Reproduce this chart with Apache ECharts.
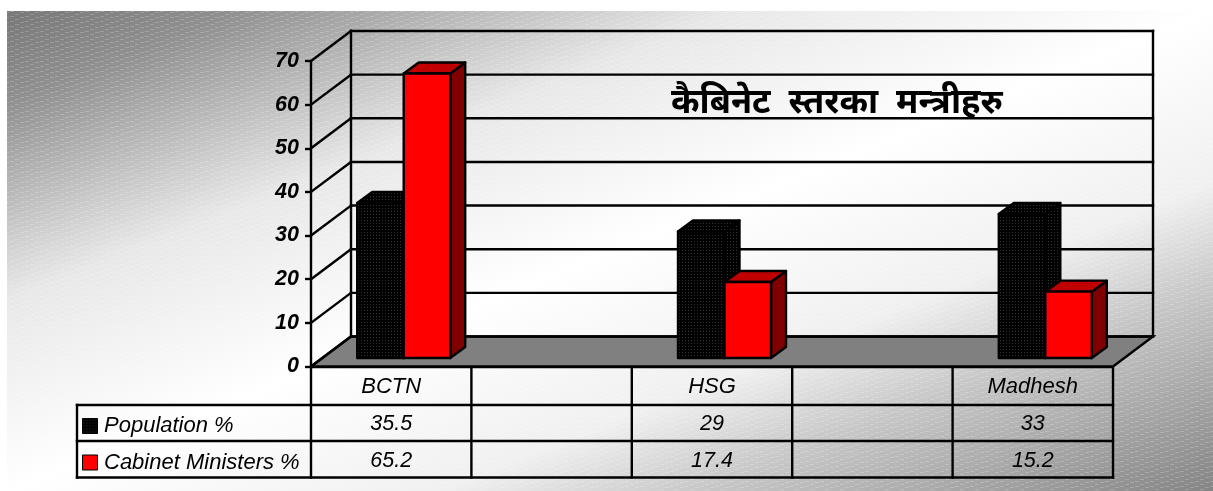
<!DOCTYPE html>
<html>
<head>
<meta charset="utf-8">
<style>html,body{margin:0;padding:0;background:#fff}#c{width:1213px;height:491px}</style>
<script src="https://cdn.jsdelivr.net/npm/echarts@6/dist/echarts.min.js"></script>
</head>
<body>
<div id="c"></div>
<script>
const chartTitle = 'कैबिनेट  स्तरका  मन्त्रीहरु';
const categories = ['BCTN', '', 'HSG', '', 'Madhesh'];
const populationName = 'Population %';
const ministersName = 'Cabinet Ministers %';
const population = [35.5, null, 29, null, 33];
const ministers = [65.2, null, 17.4, null, 15.2];
const yTicks = [0, 10, 20, 30, 40, 50, 60, 70];

function tile(w, h, bg, fg, marks) {
  const c = document.createElement('canvas');
  c.width = w; c.height = h;
  const g = c.getContext('2d');
  if (bg) { g.fillStyle = bg; g.fillRect(0, 0, w, h); }
  g.fillStyle = fg;
  marks.forEach(m => g.fillRect(m[0], m[1], m[2], m[3]));
  return { image: c, repeat: 'repeat' };
}
const hatch = tile(15, 5, null, 'rgba(255,255,255,0.2)',
  [[0, 4, 4, 1], [5, 2, 4, 1], [10, 1, 4, 1]]);
const blackFill = tile(3, 3, '#000', '#333333', [[1, 1, 1, 1]]);

const W = 7, DEPTH_X = 40, DEPTH_Y = -30;      // wall depth
const PLANE_X = 12.5, PLANE_Y = -8.5;          // bar plane inside the floor
const BAR_W = 46.5, SIDE_X = 15, SIDE_Y = -11;
const LW = 2.4;
const FONT = '"Liberation Sans", Arial, sans-serif';

function line(x1, y1, x2, y2) {
  return { type: 'line', shape: { x1, y1, x2, y2 }, style: { stroke: '#000', lineWidth: LW, lineCap: 'square' } };
}

function renderWalls(params, api) {
  const cs = params.coordSys;
  const l = cs.x, r = cs.x + cs.width;
  const y0 = api.coord([0, 0])[1];
  const children = [{
    type: 'polygon',
    shape: { points: [[l, y0], [l + DEPTH_X, y0 + DEPTH_Y], [r + DEPTH_X, y0 + DEPTH_Y], [r, y0]] },
    style: { fill: '#808080', stroke: '#000', lineWidth: LW }
  }];
  yTicks.forEach(v => {
    const y = api.coord([0, v])[1];
    children.push(line(l, y, l + DEPTH_X, y + DEPTH_Y));
    children.push(line(l + DEPTH_X, y + DEPTH_Y, r + DEPTH_X, y + DEPTH_Y));
  });
  const top = api.coord([0, 70])[1];
  children.push(line(l + DEPTH_X, top + DEPTH_Y, l + DEPTH_X, y0 + DEPTH_Y));
  children.push(line(r + DEPTH_X, top + DEPTH_Y, r + DEPTH_X, y0 + DEPTH_Y));
  return { type: 'group', children };
}

function makeBar(side, front, topFace, sideFace) {
  return function (params, api) {
    const val = api.value(1);
    if (isNaN(val)) return null;
    const cat = api.value(0);
    const cx = api.coord([cat, 0])[0] + PLANE_X;
    const y0 = api.coord([cat, 0])[1] + PLANE_Y;
    const y1 = api.coord([cat, val])[1] + PLANE_Y;
    const x0 = side < 0 ? cx - BAR_W : cx, x1 = x0 + BAR_W;
    const st = f => ({ fill: f, stroke: '#000', lineWidth: LW, lineJoin: 'round' });
    return {
      type: 'group',
      children: [
        { type: 'polygon', shape: { points: [[x1, y1], [x1 + SIDE_X, y1 + SIDE_Y], [x1 + SIDE_X, y0 + SIDE_Y], [x1, y0]] }, style: st(sideFace) },
        { type: 'polygon', shape: { points: [[x0, y1], [x0 + SIDE_X, y1 + SIDE_Y], [x1 + SIDE_X, y1 + SIDE_Y], [x1, y1]] }, style: st(topFace) },
        { type: 'rect', shape: { x: x0, y: y1, width: BAR_W, height: y0 - y1 }, style: st(front) }
      ]
    };
  };
}

function renderTable(params, api) {
  const cs = params.coordSys;
  const l = cs.x, r = cs.x + cs.width;
  const yTop = cs.y + cs.height + 1;
  const rows = [yTop + 37.5, yTop + 73.5, yTop + 110];
  const legendX = 77;
  const children = [];
  categories.forEach((c, i) => {
    const x = l + (r - l) * i / categories.length;
    children.push(line(x, yTop, x, rows[2]));
    const cx = api.coord([i, 0])[0];
    const txt = (t, y) => ({
      type: 'text',
      style: { text: t == null ? '' : String(t), x: cx, y, textAlign: 'center', textVerticalAlign: 'middle', font: 'italic 21.5px ' + FONT, fill: '#000' }
    });
    children.push(txt(population[i], (rows[0] + rows[1]) / 2 + 1));
    children.push(txt(ministers[i], (rows[1] + rows[2]) / 2 + 1.5));
  });
  children.push(line(r, yTop, r, rows[2]));
  children.push(line(legendX, rows[0], legendX, rows[2]));
  rows.forEach(y => children.push(line(legendX, y, r, y)));
  return { type: 'group', children };
}

const chart = echarts.init(document.getElementById('c'), null, { renderer: 'canvas' });
chart.setOption({
  animation: false,
  title: {
    text: chartTitle, left: 666, top: 81,
    textStyle: { fontFamily: '"Noto Sans", "DejaVu Sans", sans-serif', fontWeight: 'bold', fontSize: 34.4, color: '#000' }
  },
  graphic: {
    elements: [
      { type: 'rect', z: -20, shape: { x: W, y: 11, width: 1213 - W, height: 480 },
        style: { fill: new echarts.graphic.LinearGradient(445, -163, 775, 665, [
          { offset: 0, color: '#787878' }, { offset: 0.095, color: '#909090' }, { offset: 0.3, color: '#e8e8e8' },
          { offset: 0.5, color: '#ffffff' }, { offset: 0.68, color: '#f0f0f0' }, { offset: 0.785, color: '#c8c8c8' }, { offset: 1, color: '#858585' }
        ], true) } },
      { type: 'rect', z: -19, shape: { x: W, y: 11, width: 1213 - W, height: 480 }, style: { fill: hatch } }
    ]
  },
  legend: {
    data: [populationName, ministersName],
    orient: 'vertical', left: 77, top: 410, itemWidth: 15, itemHeight: 15, itemGap: 14.5, icon: 'rect',
    itemStyle: { borderColor: '#000', borderWidth: 1 },
    textStyle: { fontFamily: FONT, fontStyle: 'italic', fontSize: 22, color: '#000', padding: [0, 0, 0, 1.5] }
  },
  grid: { left: 311, top: 61, width: 802, height: 305.5 },
  xAxis: {
    type: 'category', data: categories,
    axisLine: { lineStyle: { color: '#000', width: LW } },
    axisTick: { show: false },
    axisLabel: { interval: 0, margin: 9, fontFamily: FONT, fontStyle: 'italic', fontSize: 22, color: '#000' },
    splitLine: { show: false }
  },
  yAxis: {
    type: 'value', min: 0, max: 70, interval: 10,
    axisLine: { show: true, lineStyle: { color: '#000', width: LW } },
    axisTick: { show: true, length: 6, lineStyle: { color: '#000', width: LW } },
    axisLabel: { margin: 12, fontFamily: FONT, fontStyle: 'italic', fontWeight: 'bold', fontSize: 21.5, color: '#000' },
    splitLine: { show: false }
  },
  series: [
    { type: 'custom', name: 'walls', data: [[0, 0]], renderItem: renderWalls, clip: false, silent: true },
    { type: 'custom', name: populationName, data: categories.map((c, i) => [i, population[i]]),
      itemStyle: { color: blackFill }, renderItem: makeBar(-1, blackFill, blackFill, blackFill), clip: false, encode: { x: 0, y: 1 } },
    { type: 'custom', name: ministersName, data: categories.map((c, i) => [i, ministers[i]]),
      itemStyle: { color: '#ff0000' }, renderItem: makeBar(1, '#ff0000', '#c00000', '#800000'), clip: false, encode: { x: 0, y: 1 } },
    { type: 'custom', name: 'table', data: [[0, 0]], renderItem: renderTable, clip: false, silent: true }
  ]
});
</script>
</body>
</html>
